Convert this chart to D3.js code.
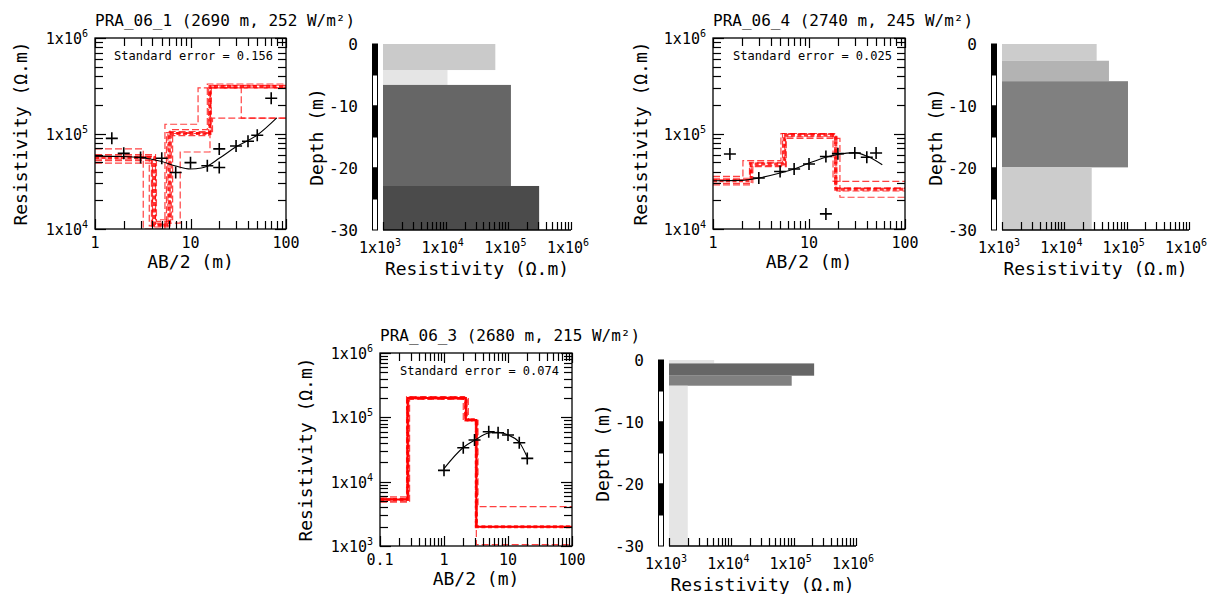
<!DOCTYPE html>
<html><head><meta charset="utf-8">
<script src="https://cdn.jsdelivr.net/npm/d3@7"></script>
<style>
body{margin:0;background:#fff;}
svg text{font-family:"DejaVu Sans Mono",monospace;fill:#000;}
</style></head><body>
<svg id="c" width="1214" height="594"></svg>
<script>
// ---------------- DATA ----------------
const titles = ["PRA_06_1 (2690 m, 252 W/m²)", "PRA_06_4 (2740 m, 245 W/m²)", "PRA_06_3 (2680 m, 215 W/m²)"];
const stdErrors = ["0.156", "0.025", "0.074"];

// PRA_06_1: field data, fitted curve, equivalent models, interpreted layers
const p1Ab  = [1.5, 2, 3, 5, 7, 10, 15, 20, 20, 30, 40, 50, 70];
const p1Rho = [89000, 62000, 56000, 55000, 39000, 49500, 46000, 44000, 69000, 74000, 83000, 96000, 234000];
const p1FitAb  = [1, 2, 3, 5, 7, 10, 13, 15, 20, 30, 50, 80];
const p1FitRho = [58000, 57500, 56000, 51000, 45700, 42500, 43600, 45500, 55000, 72500, 96500, 146000];
const p1ModelRho   = [[56000, 11000, 100000, 310000], [58000, 10500, 105000, 320000], [52000, 12000, 95000, 300000],
                      [69000, 10000, 125000, 300000], [49000, 11500, 64000, 300000, 145000], [60000, 12500, 100000, 145000],
                      [54000, 10800, 110000, 330000], [57000, 11200, 102000, 315000]];
const p1ModelSteps = [[4.2, 6.0, 16], [3.9, 5.8, 16.5], [4.4, 6.3, 15.5],
                      [3.2, 5.4, 12], [4.0, 7.8, 16, 34], [4.3, 6.5, 17],
                      [3.7, 6.1, 15], [4.0, 5.6, 16.2]];
const p1LayerTop = [0, 4.2, 6.6, 22.9];
const p1LayerRho = [62000, 10700, 110000, 310000];

// PRA_06_4
const p2Ab  = [1.5, 3, 5, 7, 10, 15, 15, 20, 30, 40, 50];
const p2Rho = [61000, 34200, 40000, 42500, 48000, 57500, 14400, 61500, 62400, 56500, 62400];
const p2FitAb  = [1, 2, 3, 5, 7, 10, 15, 20, 30, 40, 58];
const p2FitRho = [32000, 32300, 34200, 38500, 42500, 49000, 56500, 60500, 63000, 58000, 47000];
const p2ModelRho   = [[32000, 48000, 96000, 26000], [34000, 50000, 100000, 27000], [30000, 46000, 92000, 25000],
                      [35500, 52000, 100000, 31600], [29000, 45000, 89000, 21500], [33000, 49000, 98000, 26500]];
const p2ModelSteps = [[2.5, 5.5, 19], [2.4, 5.3, 18.5], [2.6, 5.7, 19.5],
                      [2.05, 5.1, 17.8], [2.5, 5.8, 21], [2.45, 5.6, 19]];
const p2LayerTop = [0, 2.7, 6.0, 19.9];
const p2LayerRho = [33000, 52000, 105000, 27500];

// PRA_06_3
const p3Ab  = [1, 2, 3, 5, 7, 10, 15, 20];
const p3Rho = [15000, 33700, 44400, 59800, 57600, 53000, 40300, 23000];
const p3FitAb  = [1, 2, 3, 5, 7, 10, 15, 20];
const p3FitRho = [16000, 34000, 44000, 57000, 58500, 53000, 41000, 24000];
const p3ModelRho   = [[5300, 200000, 91000, 2000], [5800, 210000, 95000, 2000], [4800, 190000, 88000, 2000],
                      [5500, 205000, 90000, 4100], [5000, 195000, 92000, 1050]];
const p3ModelSteps = [[0.27, 2.2, 3.2], [0.26, 2.1, 3.1], [0.29, 2.3, 3.3],
                      [0.28, 2.0, 3.4], [0.27, 2.4, 3.2]];
const p3LayerTop = [0, 0.55, 2.53, 4.15];
const p3LayerRho = [5300, 213000, 93000, 2000];

// tick labels
const sndXTicksA = [1, 10, 100];        const sndXLabelsA = ["1", "10", "100"];
const sndXTicksB = [0.1, 1, 10, 100];   const sndXLabelsB = ["0.1", "1", "10", "100"];
const sndYTicksA = [1e4, 1e5, 1e6];     const sndYExpA = ["4", "5", "6"];
const sndYTicksB = [1e3, 1e4, 1e5, 1e6]; const sndYExpB = ["3", "4", "5", "6"];
const depXTicks = [1e3, 1e4, 1e5, 1e6]; const depXExp = ["3", "4", "5", "6"];
const depYTicks = [0, -10, -20, -30];   const depYLabels = ["0", "-10", "-20", "-30"];
const depthBarEdges = [0, -5, -10, -15, -20, -25, -30];

// ---------------- STYLE (layer shades) ----------------
const shades1 = ["#cacaca", "#e5e5e5", "#666666", "#4b4b4b"];
const shades2 = ["#cccccc", "#b3b3b3", "#808080", "#cccccc"];
const shades3 = ["#e5e5e5", "#666666", "#808080", "#e5e5e5"];

// ---------------- DRAWING ----------------
const svg = d3.select("#c");
const defs = svg.append("defs");
const tickSegs = [];   // [x1, y1, x2, y2] in pixels, computed from the scales
let clipId = 0;

function logTicks(domain) {
  const out = [];
  const lo = Math.floor(Math.log10(domain[0]) + 1e-9), hi = Math.ceil(Math.log10(domain[1]) - 1e-9);
  for (let e = lo; e <= hi; e++) for (let k = 1; k <= 9; k++) {
    const v = k * Math.pow(10, e);
    if (v >= domain[0] * 0.999 && v <= domain[1] * 1.001) out.push(v);
  }
  return out;
}
const isMajor = v => Math.abs(Math.log10(v) - Math.round(Math.log10(v))) < 1e-6;

function addTicks(scale, values, side, pos, minorLen, majorLen) {
  values.forEach(v => {
    const c = Math.round(scale(v)) + 0.5, L = isMajor(v) ? majorLen : minorLen;
    if (side === "bottom") tickSegs.push([c, pos, c, pos - L]);
    if (side === "top")    tickSegs.push([c, pos, c, pos + L]);
    if (side === "left")   tickSegs.push([pos, c, pos + L, c]);
    if (side === "right")  tickSegs.push([pos, c, pos - L, c]);
  });
}

function powLabel(sel, exp) {
  sel.text("1x10");
  sel.append("tspan").attr("font-size", 10).attr("dy", "-0.7em").text(exp);
}

function sounding(cfg) {
  const g = svg.append("g");
  const x = d3.scaleLog().domain(cfg.xDomain).range([cfg.x0, cfg.x1]);
  const y = d3.scaleLog().domain(cfg.yDomain).range([cfg.y1, cfg.y0]);
  const w = cfg.x1 - cfg.x0, h = cfg.y1 - cfg.y0;
  const id = "clip" + (clipId++);
  defs.append("clipPath").attr("id", id).append("rect")
    .attr("x", cfg.x0).attr("y", cfg.y0).attr("width", w).attr("height", h);

  g.append("text").attr("x", cfg.x1 - 13).attr("y", cfg.y0 + 22).attr("text-anchor", "end")
    .attr("font-size", 12).text("Standard error = " + cfg.stdErr);

  const plot = g.append("g").attr("clip-path", `url(#${id})`);
  const line = d3.line().x(d => x(d[0])).y(d => y(d[1]));
  const stepPts = (rho, steps) => {
    const pts = [[cfg.xDomain[0], rho[0]]];
    steps.forEach((s, i) => { pts.push([s, rho[i]]); pts.push([s, rho[i + 1]]); });
    pts.push([cfg.xDomain[1], rho[rho.length - 1]]);
    return pts;
  };
  cfg.modelRho.forEach((rho, i) => {
    if (i === 0) return;
    plot.append("path").attr("d", line(stepPts(rho, cfg.modelSteps[i])))
      .attr("fill", "none").attr("stroke", "#ff0000").attr("stroke-opacity", 0.75)
      .attr("stroke-width", 1.2).attr("stroke-dasharray", "7,3");
  });
  const best = stepPts(cfg.modelRho[0], cfg.modelSteps[0]);
  if (cfg.solidBest) {
    plot.append("path").attr("d", line(best)).attr("fill", "none")
      .attr("stroke", "#ff0000").attr("stroke-width", 2);
  }
  plot.append("path").attr("d", line(best)).attr("fill", "none")
    .attr("stroke", "#ff0000").attr("stroke-opacity", 0.8).attr("stroke-width", 3).attr("stroke-dasharray", "4,2.5");

  plot.append("path").attr("d", d3.line().x(d => x(d[0])).y(d => y(d[1])).curve(d3.curveMonotoneX)(cfg.fitAb.map((a, i) => [a, cfg.fitRho[i]])))
    .attr("fill", "none").attr("stroke", "#000").attr("stroke-width", 1.1);

  g.append("g").selectAll("path").data(cfg.ab.map((a, i) => [a, cfg.rho[i]])).join("path")
    .attr("transform", d => `translate(${x(d[0])},${y(d[1])})`)
    .attr("d", "M-6,0H6M0,-6V6").attr("stroke", "#000").attr("stroke-width", 1.6).attr("fill", "none");

  const xt = logTicks(cfg.xDomain), yt = logTicks(cfg.yDomain);
  addTicks(x, xt, "bottom", cfg.y1, 8, 10);
  addTicks(x, xt, "top", cfg.y0, 8, 10);
  addTicks(y, yt, "left", cfg.x0, 8, 11);
  addTicks(y, yt, "right", cfg.x1, 8, 11);

  g.append("rect").attr("x", cfg.x0).attr("y", cfg.y0).attr("width", w).attr("height", h)
    .attr("fill", "none").attr("stroke", "#000").attr("stroke-width", 1.3);

  cfg.xTicks.forEach((t, i) => {
    g.append("text").attr("x", x(t)).attr("y", cfg.y1 + 19).attr("text-anchor", "middle")
      .attr("font-size", 15).text(cfg.xLabels[i]);
  });
  cfg.yTicks.forEach((t, i) => {
    const tx = g.append("text").attr("x", cfg.x0 - 7).attr("y", y(t)).attr("dy", "0.4em")
      .attr("text-anchor", "end").attr("font-size", 15);
    powLabel(tx, cfg.yExp[i]);
  });
  g.append("text").attr("x", (cfg.x0 + cfg.x1) / 2).attr("y", cfg.y1 + 39).attr("text-anchor", "middle")
    .attr("font-size", 18).text("AB/2 (m)");
  g.append("text").attr("transform", `translate(${cfg.ytx},${(cfg.y0 + cfg.y1) / 2}) rotate(-90)`)
    .attr("dy", "0.35em").attr("text-anchor", "middle").attr("font-size", 18).text("Resistivity (Ω.m)");
  g.append("text").attr("x", cfg.x0).attr("y", cfg.y0 - 12).attr("font-size", 16).text(cfg.title);
}

function depthPlot(cfg) {
  const g = svg.append("g");
  const x = d3.scaleLog().domain([1e3, 1e6]).range([cfg.x0, cfg.x1]);
  const y = d3.scaleLinear().domain([0, -30]).range([cfg.y0, cfg.y1]);

  cfg.top.forEach((t, i) => {
    const bot = i < cfg.top.length - 1 ? cfg.top[i + 1] : 30;
    g.append("rect").attr("x", x(1e3)).attr("y", y(-t))
      .attr("width", x(cfg.rho[i]) - x(1e3)).attr("height", y(-bot) - y(-t))
      .attr("fill", cfg.shades[i]);
  });

  addTicks(x, logTicks([1e3, 1e6]), "bottom", cfg.y1, 8, 8);
  g.append("line").attr("x1", x(1e3)).attr("x2", x(1e6)).attr("y1", cfg.y1).attr("y2", cfg.y1)
    .attr("stroke", "#000").attr("stroke-width", 1.3);

  for (let i = 0; i < depthBarEdges.length - 1; i++) {
    g.append("rect").attr("x", cfg.bx + 0.5).attr("y", y(depthBarEdges[i]))
      .attr("width", 5).attr("height", y(depthBarEdges[i + 1]) - y(depthBarEdges[i]))
      .attr("fill", i % 2 === 0 ? "#000" : "#fff").attr("stroke", "#000").attr("stroke-width", 1);
  }

  depXTicks.forEach((t, i) => {
    const tx = g.append("text").attr("x", x(t) - 3).attr("y", cfg.y1 + 23).attr("text-anchor", "middle").attr("font-size", 15);
    powLabel(tx, depXExp[i]);
  });
  depYTicks.forEach((t, i) => {
    g.append("text").attr("x", cfg.bx - 14).attr("y", y(t)).attr("dy", "0.35em")
      .attr("text-anchor", "end").attr("font-size", 16).text(depYLabels[i]);
  });
  g.append("text").attr("x", (cfg.x0 + cfg.x1) / 2).attr("y", cfg.y1 + 45).attr("text-anchor", "middle")
    .attr("font-size", 18).text("Resistivity (Ω.m)");
  g.append("text").attr("transform", `translate(${cfg.ytx},${(cfg.y0 + cfg.y1) / 2}) rotate(-90)`)
    .attr("dy", "0.35em").attr("text-anchor", "middle").attr("font-size", 18).text("Depth (m)");
}

sounding({x0: 95, x1: 286, y0: 38, y1: 229, ytx: 21, xDomain: [1, 100], yDomain: [1e4, 1e6],
  xTicks: sndXTicksA, xLabels: sndXLabelsA, yTicks: sndYTicksA, yExp: sndYExpA,
  title: titles[0], stdErr: stdErrors[0], ab: p1Ab, rho: p1Rho, fitAb: p1FitAb, fitRho: p1FitRho,
  modelRho: p1ModelRho, modelSteps: p1ModelSteps});
depthPlot({x0: 383, x1: 571, y0: 44, y1: 230, bx: 372, ytx: 317, top: p1LayerTop, rho: p1LayerRho, shades: shades1});

sounding({x0: 713, x1: 905, y0: 38, y1: 229, ytx: 641, xDomain: [1, 100], yDomain: [1e4, 1e6],
  xTicks: sndXTicksA, xLabels: sndXLabelsA, yTicks: sndYTicksA, yExp: sndYExpA,
  title: titles[1], stdErr: stdErrors[1], ab: p2Ab, rho: p2Rho, fitAb: p2FitAb, fitRho: p2FitRho,
  modelRho: p2ModelRho, modelSteps: p2ModelSteps});
depthPlot({x0: 1002, x1: 1189, y0: 44, y1: 230, bx: 991, ytx: 936, top: p2LayerTop, rho: p2LayerRho, shades: shades2});

sounding({x0: 380, x1: 572, y0: 353, y1: 546, ytx: 306, xDomain: [0.1, 100], yDomain: [1e3, 1e6],
  xTicks: sndXTicksB, xLabels: sndXLabelsB, yTicks: sndYTicksB, yExp: sndYExpB,
  title: titles[2], stdErr: stdErrors[2], ab: p3Ab, rho: p3Rho, fitAb: p3FitAb, fitRho: p3FitRho,
  modelRho: p3ModelRho, modelSteps: p3ModelSteps, solidBest: true});
depthPlot({x0: 669, x1: 856, y0: 360, y1: 546, bx: 658, ytx: 603, top: p3LayerTop, rho: p3LayerRho, shades: shades3});

// tick marks as line elements, drawn last
svg.append("g").attr("stroke", "#000").attr("stroke-width", 1.2)
  .selectAll("line").data(tickSegs).join("line")
  .attr("x1", d => d[0]).attr("y1", d => d[1]).attr("x2", d => d[2]).attr("y2", d => d[3]);
</script>
</body></html>
